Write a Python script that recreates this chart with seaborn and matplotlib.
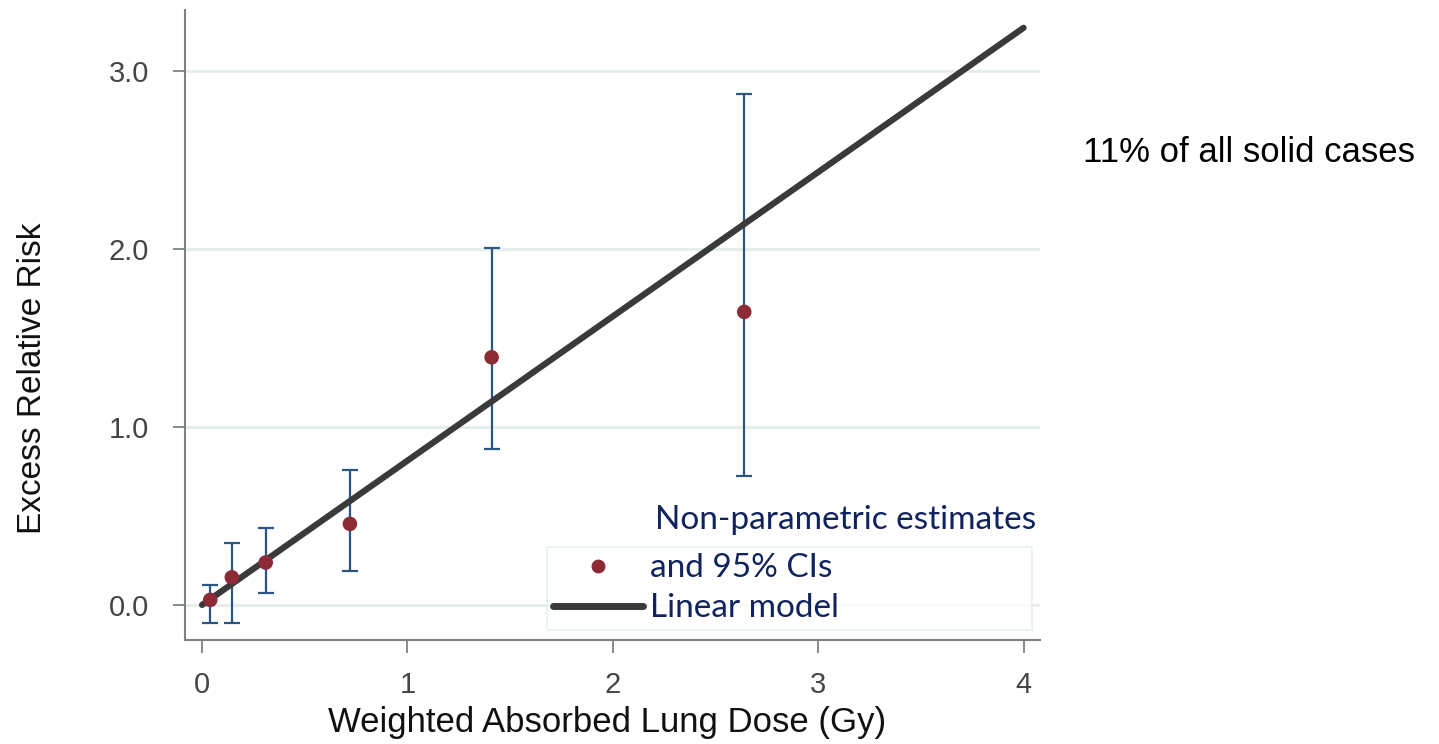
import matplotlib
matplotlib.use("Agg")
import matplotlib.pyplot as plt
import seaborn as sns
import pandas as pd
from matplotlib.lines import Line2D

# ---- data ----
dose = [0.04, 0.145, 0.31, 0.72, 1.41, 2.64]
err_est = [0.028, 0.155, 0.238, 0.455, 1.39, 1.645]
ci_low = [-0.10, -0.10, 0.066, 0.19, 0.875, 0.725]
ci_high = [0.11, 0.35, 0.43, 0.76, 2.005, 2.87]
model_dose = [0.0, 4.0]
model_err = [0.0, 3.24]
x_ticks = [0, 1, 2, 3, 4]
y_ticks = [0.0, 1.0, 2.0, 3.0]
y_tick_labels = ["0.0", "1.0", "2.0", "3.0"]

pts = pd.DataFrame({"dose": dose, "err": err_est})
model = pd.DataFrame({"dose": model_dose, "err": model_err})

sns.set_theme(style="white")
plt.rcParams["font.family"] = ["Liberation Sans", "DejaVu Sans"]

fig = plt.figure(figsize=(14.39, 7.44), dpi=100)
ax = fig.add_axes([185 / 1439, 104 / 744, 855 / 1439, 630 / 744])

grid_c = "#e3edef"
for yv in y_ticks:
    ax.axhline(yv, color=grid_c, lw=2, zorder=0)

point_c = "#8c2a36"
err_c = "#2b5582"
line_c = "#3a3a3a"

yerr = [[e - l for e, l in zip(err_est, ci_low)], [h - e for e, h in zip(err_est, ci_high)]]
ax.errorbar(dose, err_est, yerr=yerr, fmt="none", ecolor=err_c, elinewidth=1.6,
            capsize=6, capthick=1.6, zorder=2)
sns.lineplot(data=model, x="dose", y="err", ax=ax, color=line_c, lw=4.5, zorder=3,
             legend=False)
sns.scatterplot(data=pts, x="dose", y="err", ax=ax, color=point_c, s=110,
                edgecolor="none", zorder=4, legend=False)

ax.set_xlim(-0.083, 4.08)
ax.set_ylim(-0.197, 3.34)
ax.set_xticks(x_ticks)
ax.set_xticklabels([str(t) for t in x_ticks])
ax.set_yticks(y_ticks)
ax.set_yticklabels(y_tick_labels)

spine_c = "#808080"
for s in ["top", "right"]:
    ax.spines[s].set_visible(False)
for s in ["left", "bottom"]:
    ax.spines[s].set_color(spine_c)
    ax.spines[s].set_linewidth(1.5)
ax.tick_params(axis="both", which="major", direction="out", length=9, width=1.3,
               color=spine_c, labelcolor="#454545", labelsize=21)
ax.tick_params(axis="y", pad=17)
ax.tick_params(axis="x", pad=13)
ax.tick_params(left=True, bottom=True)

ax.set_xlabel("Weighted Absorbed Lung Dose (Gy)", fontsize=25, color="#111111")
ax.set_ylabel("Excess Relative Risk", fontsize=24, color="#111111")
ax.xaxis.set_label_coords(0.494, -0.105)
ax.yaxis.set_label_coords(-0.16, 0.416)

# legend
leg_font = ["Lato", "DejaVu Sans"]
navy = "#10235e"
handles = [
    Line2D([], [], marker="o", ls="none", color=point_c, markersize=10, markeredgewidth=0),
    Line2D([], [], color=line_c, lw=5),
]
leg = ax.legend(handles, ["and 95% CIs", "Linear model"], loc="lower left",
                bbox_to_anchor=(0.423, 0.016, 0.568, 0.132), mode="expand",
                borderaxespad=0, frameon=True, fancybox=False, handlelength=2.7,
                handletextpad=0.2, labelspacing=0.3, borderpad=0.2,
                prop={"family": leg_font, "size": 24})
leg.get_frame().set_edgecolor("#e2edf0")
leg.get_frame().set_linewidth(1.2)
for t in leg.get_texts():
    t.set_color(navy)
ax.text(0.55, 0.19, "Non-parametric estimates", transform=ax.transAxes,
        ha="left", va="center", fontsize=24, family=leg_font, color=navy)

fig.text(1083 / 1439, 1 - 152 / 744, "11% of all solid cases", ha="left", va="center",
         fontsize=25, color="black")

fig.savefig("out.png", dpi=100)
